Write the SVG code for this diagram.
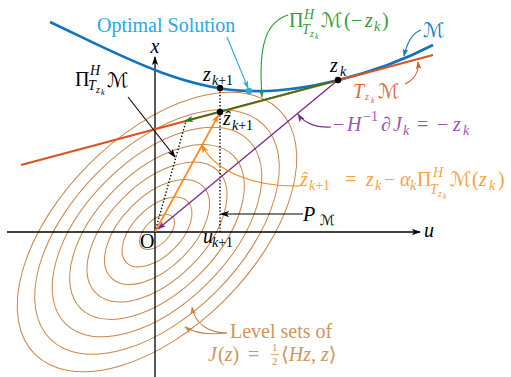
<svg xmlns="http://www.w3.org/2000/svg" width="511" height="377" viewBox="0 0 511 377">
<style>
text{font-family:"Liberation Serif","Times New Roman","DejaVu Serif",serif;font-size:20px}
.i{font-style:italic}
.s{font-size:14px}
.ss{font-size:10px}
.sss{font-size:8px}
.fr{font-size:11px}
.cal{font-family:"DejaVu Sans","DejaVu Serif",serif;font-style:normal}
.dot{stroke:#000;stroke-width:1.4;stroke-dasharray:1.4 2;fill:none}
.lead{fill:none;stroke-width:1.1}
</style>
<defs>
<marker id="mk" viewBox="0 0 10 7" refX="9" refY="3.5" markerWidth="9" markerHeight="6.3" markerUnits="userSpaceOnUse" orient="auto"><path d="M0,0L10,3.5L0,7L2.5,3.5z" fill="#000"/></marker>
<marker id="mg" viewBox="0 0 10 7" refX="9" refY="3.5" markerWidth="9" markerHeight="6.3" markerUnits="userSpaceOnUse" orient="auto"><path d="M0,0L10,3.5L0,7L2.5,3.5z" fill="#2b7a12"/></marker>
<marker id="mg2" viewBox="0 0 10 7" refX="9" refY="3.5" markerWidth="8" markerHeight="5.6" markerUnits="userSpaceOnUse" orient="auto"><path d="M0,0L10,3.5L0,7L2.5,3.5z" fill="#2e9a2e"/></marker>
<marker id="mp" viewBox="0 0 10 7" refX="9" refY="3.5" markerWidth="9" markerHeight="6.3" markerUnits="userSpaceOnUse" orient="auto"><path d="M0,0L10,3.5L0,7L2.5,3.5z" fill="#7b2d8e"/></marker>
<marker id="mo" viewBox="0 0 10 7" refX="9" refY="3.5" markerWidth="9" markerHeight="6.3" markerUnits="userSpaceOnUse" orient="auto"><path d="M0,0L10,3.5L0,7L2.5,3.5z" fill="#ff8515"/></marker>
<marker id="ml" viewBox="0 0 10 7" refX="9" refY="3.5" markerWidth="8" markerHeight="5.6" markerUnits="userSpaceOnUse" orient="auto"><path d="M0,0L10,3.5L0,7L2.5,3.5z" fill="#29a9e1"/></marker>
<marker id="mb" viewBox="0 0 10 7" refX="9" refY="3.5" markerWidth="8" markerHeight="5.6" markerUnits="userSpaceOnUse" orient="auto"><path d="M0,0L10,3.5L0,7L2.5,3.5z" fill="#1173bd"/></marker>
<marker id="mr" viewBox="0 0 10 7" refX="9" refY="3.5" markerWidth="8" markerHeight="5.6" markerUnits="userSpaceOnUse" orient="auto"><path d="M0,0L10,3.5L0,7L2.5,3.5z" fill="#d9531e"/></marker>
<marker id="mn" viewBox="0 0 10 7" refX="9" refY="3.5" markerWidth="8" markerHeight="5.6" markerUnits="userSpaceOnUse" orient="auto"><path d="M0,0L10,3.5L0,7L2.5,3.5z" fill="#c8864c"/></marker>
</defs>
<rect width="511" height="377" fill="#fff"/>

<g id="levelsets" transform="translate(157,232) rotate(-45)" fill="none" stroke="#c8864c" stroke-width="1">
<ellipse rx="21.6" ry="12"/>
<ellipse rx="43.2" ry="24"/>
<ellipse rx="64.8" ry="36"/>
<ellipse rx="86.4" ry="48"/>
<ellipse rx="108" ry="60"/>
<ellipse rx="129.6" ry="72"/>
<ellipse rx="151.2" ry="84"/>
<ellipse rx="172.8" ry="96"/>
</g>

<g id="axes" stroke="#000" stroke-width="1.3" fill="none">
<line x1="7" y1="232" x2="420" y2="232" marker-end="url(#mk)"/>
<line x1="155" y1="377" x2="155" y2="57" marker-end="url(#mk)"/>
</g>

<g id="manifold">
<path d="M50,22 C110,50 180,90 250,91 C300,93 375,75 433,45" fill="none" stroke="#1173bd" stroke-width="2.6"/>
</g>
<g id="tangent">
<line x1="21" y1="165" x2="433" y2="55" stroke="#d9531e" stroke-width="2.3"/>
</g>

<g id="connectors" fill="none">
<line x1="338" y1="80" x2="185" y2="121" stroke="#2b7a12" stroke-width="1.8" marker-end="url(#mg)"/>
<line class="dot" x1="155" y1="232" x2="186" y2="121"/>
<line class="dot" x1="220" y1="88" x2="220" y2="232"/>
<line x1="338" y1="80" x2="158" y2="229" stroke="#7b2d8e" stroke-width="1.4" marker-end="url(#mp)"/>
<line x1="155" y1="232" x2="218.5" y2="115" stroke="#ff8515" stroke-width="1.6" marker-end="url(#mo)"/>
<line x1="128" y1="97" x2="175" y2="157" stroke="#000" stroke-width="1.1" marker-end="url(#mk)"/>
<line x1="303" y1="214" x2="221" y2="214" stroke="#000" stroke-width="1.1" marker-end="url(#mk)"/>
<line x1="227" y1="37" x2="248" y2="88" stroke="#29a9e1" stroke-width="1.1" marker-end="url(#ml)"/>
<path class="lead" d="M288,15 C266,22 258,45 262,97" stroke="#2e9a2e" marker-end="url(#mg2)"/>
<path class="lead" d="M421,30 C412,33 407,43 404,56" stroke="#1173bd" marker-end="url(#mb)"/>
<path class="lead" d="M405,84 C414,80 419,72 418,62" stroke="#d9531e" marker-end="url(#mr)"/>
<path class="lead" d="M331,127 C315,128 303,122 298,114" stroke="#7b2d8e" marker-end="url(#mp)"/>
<path class="lead" d="M300,186 C255,187 215,172 202,145" stroke="#ff8515" marker-end="url(#mo)"/>
<path class="lead" d="M227,333 C208,335 194,333 185,327" stroke="#c8864c" marker-end="url(#mn)"/>
<path class="lead" d="M227,333 C210,333 195,325 192,307" stroke="#c8864c" marker-end="url(#mn)"/>
</g>

<g id="points">
<circle cx="220" cy="88" r="3.2" fill="#000"/>
<circle cx="220" cy="112" r="3.2" fill="#000"/>
<circle cx="338" cy="80" r="3.2" fill="#000"/>
<circle cx="249" cy="91" r="3.2" fill="#29a9e1"/>
</g>

<g id="label-optimal"><text x="97" y="32" fill="#29a9e1">Optimal Solution</text></g>

<g id="label-proj-minus-zk" fill="#3a9a3a">
<text x="289" y="27">Π</text>
<text x="304" y="19" class="i s">H</text>
<text x="302" y="34" class="i s">T</text>
<text x="310" y="37" class="i ss">z</text>
<text x="315" y="39" class="i sss">k</text>
<text x="321" y="27" class="cal">ℳ</text>
<text x="344" y="27">(</text>
<text x="351" y="27">−</text>
<text x="365" y="27" class="i">z</text>
<text x="374" y="31" class="i s">k</text>
<text x="382" y="27">)</text>
</g>

<g id="label-M" fill="#1a7fc4"><text x="423" y="37" class="cal">ℳ</text></g>

<g id="label-TM" fill="#e0693a">
<text x="353" y="98" class="i">T</text>
<text x="365" y="100" class="i ss">z</text>
<text x="371" y="103" class="i sss">k</text>
<text x="378" y="98" class="cal">ℳ</text>
</g>

<g id="label-zk"><text x="330" y="72" class="i">z</text><text x="340" y="76" class="i s">k</text></g>
<g id="label-zk1"><text x="203" y="81" class="i">z</text><text x="212" y="85" class="s"><tspan class="i">k</tspan>+1</text></g>
<g id="label-zhat"><text x="223" y="125" class="i">ẑ</text><text x="232" y="130" class="s"><tspan class="i">k</tspan>+1</text></g>

<g id="label-proj">
<text x="75" y="86">Π</text>
<text x="90" y="75" class="i s">H</text>
<text x="88" y="90" class="i s">T</text>
<text x="96" y="93" class="i ss">z</text>
<text x="101" y="95" class="i sss">k</text>
<text x="107" y="87" class="cal">ℳ</text>
</g>

<g id="label-grad" fill="#9a55ad">
<text x="333" y="131">−</text>
<text x="347" y="131" class="i">H</text>
<text x="363" y="121" class="s">−1</text>
<text x="381" y="131">∂</text>
<text x="393" y="131" class="i">J</text>
<text x="403" y="135" class="i s">k</text>
<text x="417" y="131">=</text>
<text x="437" y="131">−</text>
<text x="453" y="131" class="i">z</text>
<text x="463" y="135" class="i s">k</text>
</g>

<g id="label-update" fill="#f7a145">
<text x="300" y="186" class="i">ẑ</text>
<text x="309" y="190" class="s"><tspan class="i">k</tspan>+1</text>
<text x="345" y="186">=</text>
<text x="366" y="186" class="i">z</text>
<text x="375" y="190" class="i s">k</text>
<text x="384" y="186">−</text>
<text x="400" y="186" class="i">α</text>
<text x="410" y="190" class="i s">k</text>
<text x="417" y="186">Π</text>
<text x="433" y="177" class="i s">H</text>
<text x="430" y="194" class="i s">T</text>
<text x="438" y="197" class="i ss">z</text>
<text x="443" y="199" class="i sss">k</text>
<text x="450" y="186" class="cal">ℳ</text>
<text x="472" y="186">(</text>
<text x="479" y="186" class="i">z</text>
<text x="489" y="190" class="i s">k</text>
<text x="498" y="186">)</text>
</g>

<g id="label-PM">
<text x="303" y="221" class="i">P</text>
<text x="320" y="225" class="cal s">ℳ</text>
</g>

<g id="label-axes">
<text x="155" y="53" class="i" text-anchor="middle">x</text>
<text x="424" y="237" class="i">u</text>
<text x="140" y="248">O</text>
<text x="203" y="243" class="i">u</text>
<text x="212" y="247" class="s"><tspan class="i">k</tspan>+1</text>
</g>

<g id="label-levels" fill="#cf955c">
<text x="230" y="338">Level sets of</text>
<text x="208" y="361" class="i">J</text>
<text x="218" y="361">(<tspan class="i">z</tspan>)</text>
<text x="248" y="361">=</text>
<text x="272" y="351" class="fr">1</text>
<line x1="271" y1="354.5" x2="279" y2="354.5" stroke="#cf955c" stroke-width="0.8"/>
<text x="272" y="365" class="fr">2</text>
<text x="281" y="361">⟨<tspan class="i">Hz</tspan>, <tspan class="i">z</tspan>⟩</text>
</g>
</svg>
